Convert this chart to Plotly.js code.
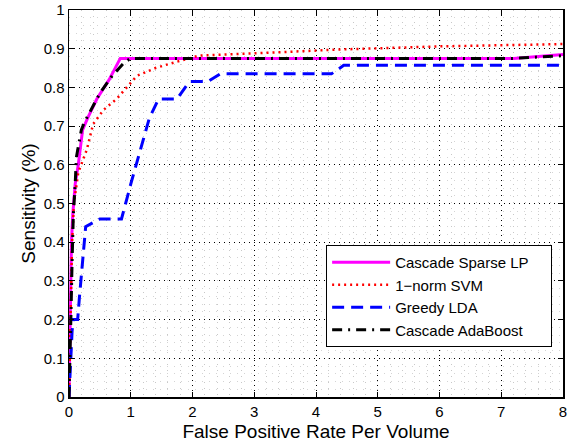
<!DOCTYPE html>
<html>
<head>
<meta charset="utf-8">
<script src="https://cdn.plot.ly/plotly-3.0.1.min.js"></script>
<style>html,body{margin:0;padding:0;background:#fff;}#chart{width:576px;height:443px;}</style>
</head>
<body>
<div id="chart"></div>
<script>
// Cascade Sparse LP
const lpX = [0, 0.02, 0.04, 0.06, 0.1, 0.15, 0.22, 0.3, 0.45, 0.65, 0.83, 7.2, 8];
const lpY = [0, 0.2, 0.4, 0.47, 0.55, 0.6, 0.69, 0.72, 0.77, 0.82, 0.875, 0.875, 0.885];
// 1-norm SVM
const svmX = [0, 0.02, 0.05, 0.08, 0.15, 0.29, 0.39, 0.56, 0.77, 1.1, 1.4, 1.65, 1.9, 2.1, 3.0, 4.4, 6.0, 8];
const svmY = [0, 0.2, 0.4, 0.5, 0.58, 0.64, 0.705, 0.742, 0.77, 0.83, 0.85, 0.862, 0.872, 0.882, 0.888, 0.898, 0.906, 0.912];
// Greedy LDA
const ldaX = [0, 0.02, 0.05, 0.07, 0.14, 0.17, 0.27, 0.5, 0.85, 1.0, 1.3, 1.45, 1.75, 1.95, 2.25, 2.45, 4.25, 4.45, 8];
const ldaY = [0, 0.08, 0.17, 0.2, 0.2, 0.26, 0.44, 0.46, 0.46, 0.55, 0.72, 0.77, 0.77, 0.815, 0.815, 0.835, 0.835, 0.857, 0.857];
// Cascade AdaBoost
const adaX = [0, 0.02, 0.03, 0.05, 0.07, 0.1, 0.12, 0.2, 0.25, 0.5, 0.7, 0.9, 1.0, 7.2, 8];
const adaY = [0, 0.1, 0.2, 0.35, 0.47, 0.55, 0.62, 0.69, 0.71, 0.785, 0.83, 0.865, 0.875, 0.875, 0.882];

const names = ['Cascade Sparse LP', '1\u2212norm SVM', 'Greedy LDA', 'Cascade AdaBoost'];
const pad = '\u00a0\u00a0\u00a0\u00a0';

const traces = [
  {x: lpX, y: lpY, name: names[0] + pad, mode: 'lines', line: {color: '#ff00ff', width: 3}},
  {x: svmX, y: svmY, name: names[1], mode: 'lines', line: {color: '#ff0000', width: 2.5, dash: '2px,4px'}},
  {x: ldaX, y: ldaY, name: names[2], mode: 'lines', line: {color: '#0000ff', width: 3, dash: '12px,7px'}},
  {x: adaX, y: adaY, name: names[3], mode: 'lines', line: {color: '#000000', width: 3, dash: '10px,6px,2px,6px'}}
];

const fam = '"Liberation Sans", Arial, Helvetica, sans-serif';

const axisCommon = {
  showline: true, linecolor: '#000', linewidth: 1.5, mirror: 'ticks',
  ticks: 'inside', ticklen: 5, tickcolor: '#000', tickwidth: 1,
  showgrid: true, gridcolor: '#000', gridwidth: 1, griddash: '1px,4px',
  zeroline: false, tickfont: {size: 15, family: fam, color: '#000'}
};

const layout = {
  width: 576, height: 443,
  margin: {l: 69, r: 13, t: 10, b: 46},
  paper_bgcolor: '#fff', plot_bgcolor: '#fff',
  font: {family: fam, color: '#000'},
  showlegend: true,
  xaxis: Object.assign({}, axisCommon, {
    range: [0, 8], dtick: 1, tick0: 0,
    title: {text: 'False Positive Rate Per Volume', font: {size: 19, family: fam, color: '#000'}, standoff: 6},
    minor: {dtick: 0.2, showgrid: true, gridcolor: '#c8c8c8', griddash: '1px,5px', gridwidth: 1}
  }),
  yaxis: Object.assign({}, axisCommon, {
    range: [0, 1], dtick: 0.1, tick0: 0,
    title: {text: 'Sensitivity (%)', font: {size: 19, family: fam, color: '#000'}, standoff: 3},
    minor: {dtick: 0.02, showgrid: true, gridcolor: '#d4d4d4', griddash: '1px,6px', gridwidth: 1}
  }),
  legend: {
    x: 0.978, y: 0.129, xanchor: 'right', yanchor: 'bottom',
    bgcolor: '#fff', bordercolor: '#000', borderwidth: 1,
    font: {size: 15, family: fam, color: '#000'},
    itemwidth: 58, tracegroupgap: 0
  }
};

Plotly.newPlot('chart', traces, layout, {staticPlot: true, displayModeBar: false});
</script>
</body>
</html>
